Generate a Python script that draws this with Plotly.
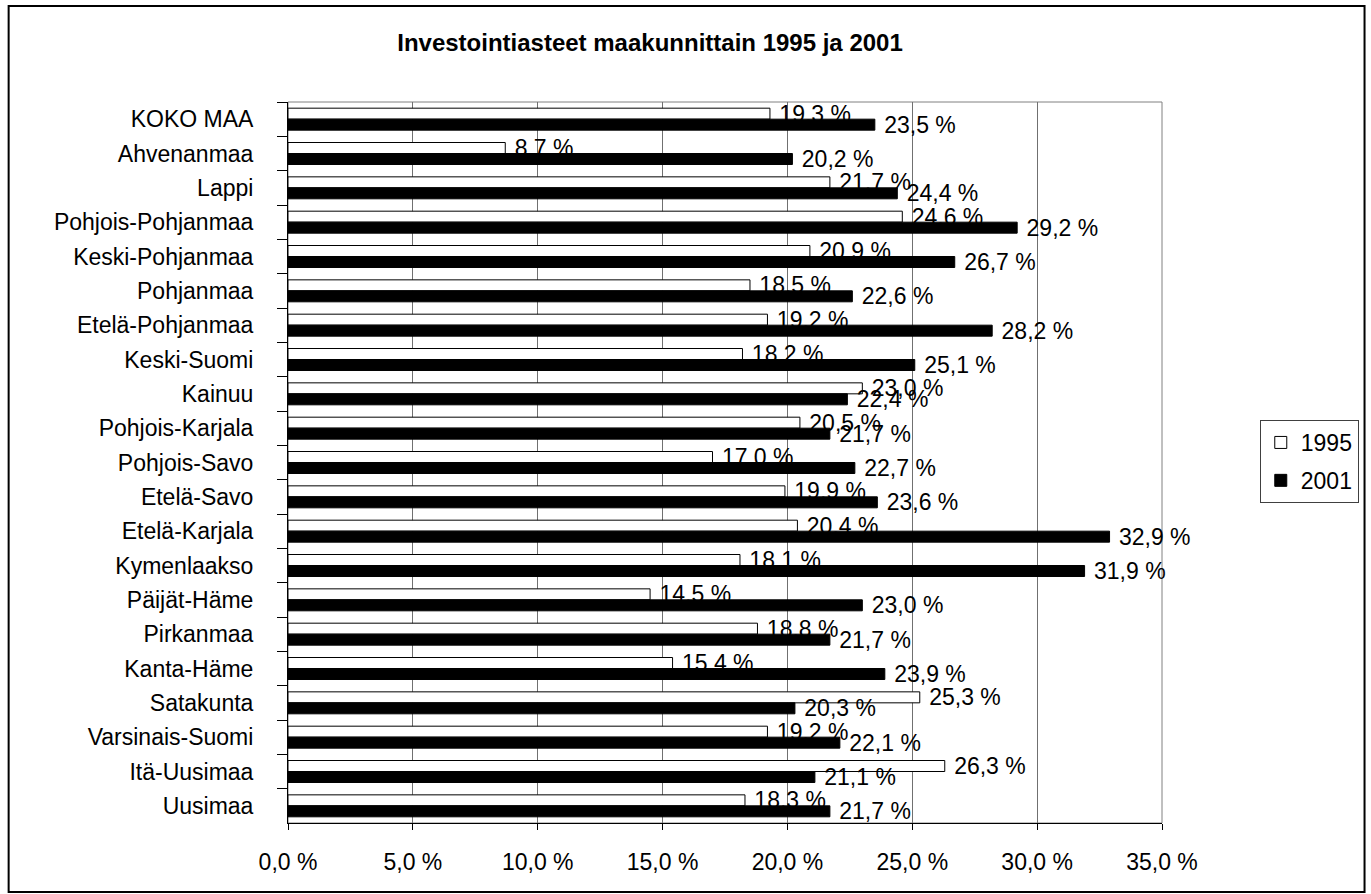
import plotly.graph_objects as go

# regions, top to bottom as in the original chart
regions = ["KOKO MAA", "Ahvenanmaa", "Lappi", "Pohjois-Pohjanmaa", "Keski-Pohjanmaa",
           "Pohjanmaa", "Etelä-Pohjanmaa", "Keski-Suomi", "Kainuu", "Pohjois-Karjala",
           "Pohjois-Savo", "Etelä-Savo", "Etelä-Karjala", "Kymenlaakso", "Päijät-Häme",
           "Pirkanmaa", "Kanta-Häme", "Satakunta", "Varsinais-Suomi", "Itä-Uusimaa", "Uusimaa"]
v1995 = [19.3, 8.7, 21.7, 24.6, 20.9, 18.5, 19.2, 18.2, 23.0, 20.5, 17.0,
         19.9, 20.4, 18.1, 14.5, 18.8, 15.4, 25.3, 19.2, 26.3, 18.3]
v2001 = [23.5, 20.2, 24.4, 29.2, 26.7, 22.6, 28.2, 25.1, 22.4, 21.7, 22.7,
         23.6, 32.9, 31.9, 23.0, 21.7, 23.9, 20.3, 22.1, 21.1, 21.7]

FONT = "Liberation Sans, Arial, sans-serif"
FS = 23

def lbl(vals):
  return ["\u00a0" + f"{v:.1f} %".replace(".", ",") for v in vals]

fig = go.Figure()
fig.add_trace(go.Bar(
  name="1995", y=regions, x=v1995, orientation="h", legendgroup="a",
  marker=dict(color="white", line=dict(color="black", width=1)),
  text=lbl(v1995), textposition="outside", constraintext="none", cliponaxis=False,
  textfont=dict(size=FS, color="black", family=FONT),
))
fig.add_trace(go.Bar(
  name="2001", y=regions, x=v2001, orientation="h", legendgroup="b",
  marker=dict(color="black", line=dict(color="black", width=1)),
  text=lbl(v2001), textposition="outside", constraintext="none", cliponaxis=False,
  textfont=dict(size=FS, color="black", family=FONT),
))

L, T, R, B = 288, 102, 1164, 823   # plot area in px
W, H = 1371, 894
pw, ph = R - L, B - T

fig.update_layout(
  width=W, height=H,
  margin=dict(l=L, r=W - R, t=T, b=H - B, pad=0),
  paper_bgcolor="white", plot_bgcolor="white",
  font=dict(family=FONT, size=FS, color="black"),
  separators=", ",
  barmode="group", bargap=0.36, bargroupgap=0,
  title=dict(text="<b>Investointiasteet maakunnittain 1995 ja 2001</b>",
             x=650 / W, xanchor="center", y=1 - 43 / H, yanchor="middle",
             font=dict(size=24, family=FONT, color="black")),
  legend=dict(x=(1262 - L) / pw, y=1 - (420 - T) / ph, xanchor="left", yanchor="top",
              bordercolor="#404040", borderwidth=1, bgcolor="white",
              traceorder="grouped", tracegroupgap=5, font=dict(size=FS), itemwidth=30),
  xaxis=dict(range=[0, 35], dtick=5, tickformat=".1f", ticksuffix=" %",
             showgrid=True, gridcolor="#707070", gridwidth=1, zeroline=False,
             showline=True, linecolor="black", linewidth=1,
             ticks="outside", ticklen=6, tickcolor="black", ticklabelstandoff=12),
  yaxis=dict(autorange="reversed", showgrid=False, zeroline=False,
             showline=True, linecolor="black", linewidth=1,
             ticks="outside", ticklen=10, tickcolor="black", tickson="boundaries",
             ticklabelstandoff=29),
  shapes=[
    # gray frame of the plot area (top/right)
    dict(type="rect", xref="paper", yref="paper", x0=0, x1=1, y0=0, y1=1,
         line=dict(color="#808080", width=1), layer="below"),
    # outer chart border
    dict(type="rect", xref="paper", yref="paper",
         x0=(8 - L) / pw, x1=(1367 - L) / pw, y0=1 - (892 - T) / ph, y1=1 - (6 - T) / ph,
         line=dict(color="black", width=2)),
  ],
)

# drop the default body margin so the figure sits at the page corner
fig.write_html("out.html", config={"displayModeBar": False},
               post_script="document.body.style.margin='0';document.body.style.overflow='hidden';")
